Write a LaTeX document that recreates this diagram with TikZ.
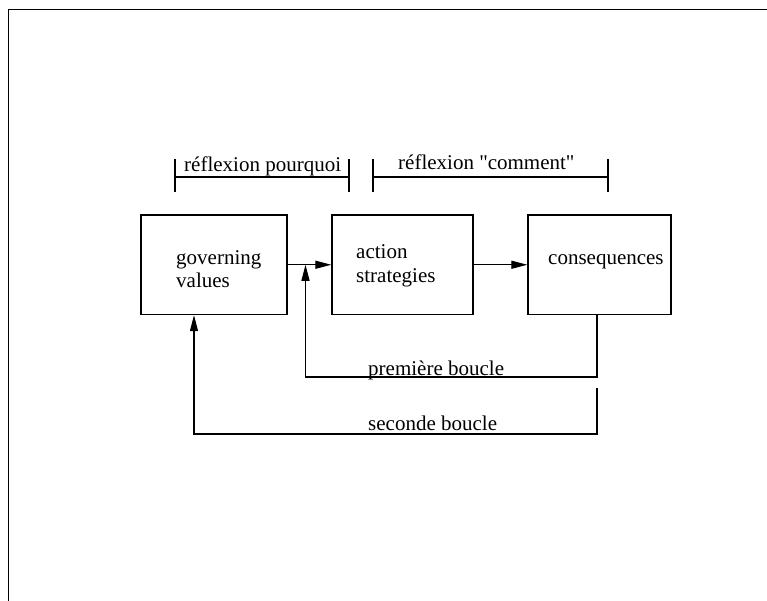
\documentclass[tikz,border=0pt]{standalone}
\usepackage{fontspec}
\setmainfont{Liberation Serif}[Ligatures=TeXOff]
\usetikzlibrary{arrows.meta}
\begin{document}
\begin{tikzpicture}[x=1pt,y=-1pt,
  box/.style={draw,line width=1.3pt,minimum width=#1,minimum height=99.5pt,inner sep=0pt},
  lbl/.style={font=\fontsize{21}{23.5}\selectfont,inner sep=0pt,align=left},
  ln/.style={line width=1.2pt},
  arr/.style={line width=1.2pt,-{Triangle[length=16pt,width=8pt]}}]
\useasboundingbox (0,0) rectangle (767,601);
% frame
\draw[line width=1.8pt] (8.5,601) -- (8.5,9.5) -- (767,9.5);
% boxes
\node[box=146pt] (box1) at (214,264.75) {};
\node[box=141pt] (box2) at (402.5,264.75) {};
\node[box=143pt] (box3) at (599.5,264.75) {};
\node[lbl,anchor=west] (t1) at (176,269) {governing\\values};
\node[lbl,anchor=west] (t2) at (356,266) {action\\strategies};
\node[lbl,anchor=base west] (t3) at (548,265) {consequences};
% arrows between boxes
\draw[arr] (box1.east) -- (box2.west);
\draw[arr] (box2.east) -- (box3.west);
% first loop
\coordinate (l0) at (597,314.5);
\coordinate (l1) at (305.5,377);
\draw[arr] (l0) |- (l1) -- (l1 |- box1.east);
\node[lbl,anchor=base west] (p1) at (368,375) {première boucle};
% second loop
\coordinate (s0) at (597,388);
\coordinate (s1) at (194,434);
\draw[arr] (s0) |- (s1) -- (s1 |- box1.south);
\node[lbl,anchor=base west] (p2) at (368,430) {seconde boucle};
% brackets
\coordinate (b1l) at (175,177);
\coordinate (b1r) at (349,177);
\draw[ln] (b1l) -- (b1r);
\draw[ln] ([yshift=-15]b1l) -- ([yshift=18]b1l);
\draw[ln] ([yshift=-15]b1r) -- ([yshift=18]b1r);
\node[lbl,anchor=base west] (r1) at (184,172) {réflexion pourquoi};
\coordinate (b2l) at (373,177);
\coordinate (b2r) at (608,177);
\draw[ln] (b2l) -- (b2r);
\draw[ln] ([yshift=-15]b2l) -- ([yshift=18]b2l);
\draw[ln] ([yshift=-15]b2r) -- ([yshift=18]b2r);
\node[lbl,anchor=base west] (r2) at (398,170) {réflexion "comment"};
\end{tikzpicture}
\end{document}
